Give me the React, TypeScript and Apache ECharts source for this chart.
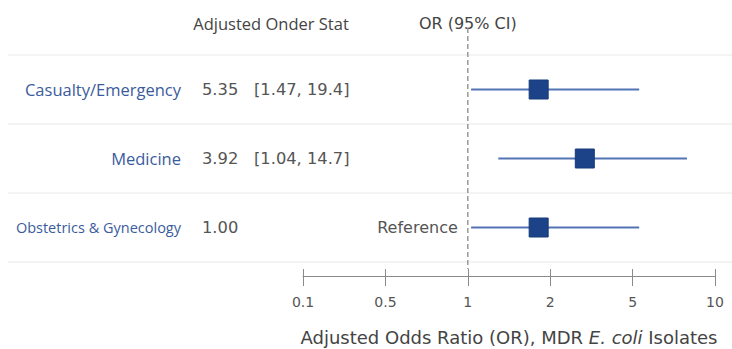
import React, { useEffect, useRef } from "react";
import * as echarts from "echarts";

const categories = ["Casualty/Emergency", "Medicine", "Obstetrics & Gynecology"];
const estimateText = ["5.35", "3.92", "1.00"];
const ciText = ["[1.47, 19.4]", "[1.04, 14.7]", ""];
const tickLabels = ["0.1", "0.5", "1", "2", "5", "10"];
// positions on the plotted axis (tick index units: 0.1=0, 0.5=1, 1=2, 2=3, 5=4, 10=5)
const pointPos = [2.86, 3.42, 2.86];
const lowPos = [2.04, 2.37, 2.04];
const highPos = [4.08, 4.66, 4.08];
const referenceIndex = 2;
const nullLinePos = 2;

const FONT = "'Open Sans', 'Noto Sans', sans-serif";
const WIDE = "'DejaVu Sans', sans-serif";
const GRID_LEFT = 303;
const GRID_TOP = 55;
const GRID_BOTTOM_Y = 262;
const W = 732;
const H = 349;

export default function App() {
  const ref = useRef<HTMLDivElement>(null);
  useEffect(() => {
    if (!ref.current) return;
    const chart = echarts.init(ref.current, undefined, { renderer: "svg" });
    const rowH = (GRID_BOTTOM_Y - GRID_TOP) / categories.length;

    const base: any = {
      animation: false,
      grid: {
        left: GRID_LEFT,
        right: 17,
        top: GRID_TOP,
        bottom: H - GRID_BOTTOM_Y,
        containLabel: false,
        outerBoundsMode: "none",
      },
      xAxis: [
        {
          type: "value",
          min: 0,
          max: 5,
          interval: 1,
          offset: 14,
          position: "bottom",
          splitLine: { show: false },
          axisLine: { show: true, lineStyle: { color: "#8a8a8a", width: 1 } },
          axisTick: { show: true, length: 10, lineStyle: { color: "#8a8a8a" } },
          axisLabel: {
            margin: 19,
            color: "#555",
            fontSize: 14,
            fontFamily: WIDE,
            formatter: (v: number) => tickLabels[Math.round(v)] ?? "",
          },
          name: "{n|Adjusted Odds Ratio (OR), MDR }{i|E. coli}{n| Isolates}",
          nameLocation: "middle",
          nameGap: 52,
          nameTextStyle: {
            rich: {
              n: { fontSize: 18, color: "#444", fontFamily: WIDE },
              i: { fontSize: 18, color: "#444", fontFamily: WIDE, fontStyle: "italic" },
            },
          },
        },
        {
          type: "value",
          min: 0,
          max: 5,
          interval: 1,
          offset: 14,
          position: "bottom",
          splitLine: { show: false },
          axisLine: { show: false },
          axisTick: { show: true, inside: true, length: 7, lineStyle: { color: "#8a8a8a" } },
          axisLabel: { show: false },
        },
      ],
      yAxis: {
        type: "category",
        inverse: true,
        data: categories,
        axisLine: { show: false },
        axisTick: { show: false },
        splitLine: { show: false },
        axisLabel: {
          margin: GRID_LEFT - 181,
          color: "#3b5c9c",
          fontSize: 16.5,
          fontFamily: FONT,
          formatter: (v: string, i: number) => (i === 2 ? `{s|${v}}` : v),
          rich: { s: { fontSize: 14.5, color: "#3b5c9c", fontFamily: FONT } },
        },
      },
      series: [
        {
          type: "custom",
          xAxisIndex: 0,
          data: categories.map((c, i) => [lowPos[i], highPos[i], i]),
          renderItem: (params: any, api: any) => {
            const p1 = api.coord([api.value(0), api.value(2)]);
            const p2 = api.coord([api.value(1), api.value(2)]);
            return {
              type: "line",
              shape: { x1: p1[0], y1: p1[1], x2: p2[0], y2: p2[1] },
              style: { stroke: "#5374b4", lineWidth: 2 },
            };
          },
          z: 2,
        },
        {
          type: "scatter",
          xAxisIndex: 0,
          symbol: "rect",
          symbolSize: 19,
          data: categories.map((c, i) => [pointPos[i], i]),
          itemStyle: { color: "#1c4388", borderColor: "#163a7a", borderWidth: 1, opacity: 1 },
          z: 3,
        },
      ],
    };
    chart.setOption(base);

    const xNull = chart.convertToPixel({ xAxisIndex: 0 }, nullLinePos) as number;
    const rowY = categories.map((c, i) => chart.convertToPixel({ yAxisIndex: 0 }, i) as number);

    const graphics: any[] = [];
    for (let k = 0; k <= categories.length; k++) {
      const y = GRID_TOP + k * rowH;
      graphics.push({
        type: "line",
        shape: { x1: 8, y1: y, x2: W, y2: y },
        style: { stroke: "#e8e8e8", lineWidth: 1 },
        z: 0,
      });
    }
    graphics.push({
      type: "line",
      shape: { x1: xNull, y1: 28, x2: xNull, y2: 269 },
      style: { stroke: "#9a9a9a", lineWidth: 1.5, lineDash: [5, 3] },
      z: 1,
    });
    graphics.push({
      type: "text",
      x: 271,
      y: 23,
      style: {
        text: "Adjusted Onder Stat",
        fill: "#444",
        fontSize: 16.5,
        fontFamily: FONT,
        align: "center",
        verticalAlign: "middle",
      },
    });
    graphics.push({
      type: "text",
      x: xNull,
      y: 23,
      style: {
        text: "OR (95% CI)",
        fill: "#444",
        fontSize: 16,
        fontFamily: WIDE,
        align: "center",
        verticalAlign: "middle",
      },
    });
    categories.forEach((c, i) => {
      graphics.push({
        type: "text",
        x: 202,
        y: rowY[i],
        style: {
          text: estimateText[i],
          fill: "#555",
          fontSize: 16.3,
          fontFamily: WIDE,
          align: "left",
          verticalAlign: "middle",
        },
      });
      if (ciText[i]) {
        graphics.push({
          type: "text",
          x: 254,
          y: rowY[i],
          style: {
            text: ciText[i],
            fill: "#555",
            fontSize: 16.3,
            fontFamily: WIDE,
            align: "left",
            verticalAlign: "middle",
          },
        });
      }
    });
    graphics.push({
      type: "text",
      x: xNull - 10,
      y: rowY[referenceIndex],
      style: {
        text: "Reference",
        fill: "#555",
        fontSize: 16,
        fontFamily: WIDE,
        align: "right",
        verticalAlign: "middle",
      },
    });
    chart.setOption({ graphic: graphics });

    return () => chart.dispose();
  }, []);
  return (
    <div
      ref={ref}
      style={{ position: "fixed", left: 0, top: 0, width: W, height: H, background: "#fff" }}
    />
  );
}
